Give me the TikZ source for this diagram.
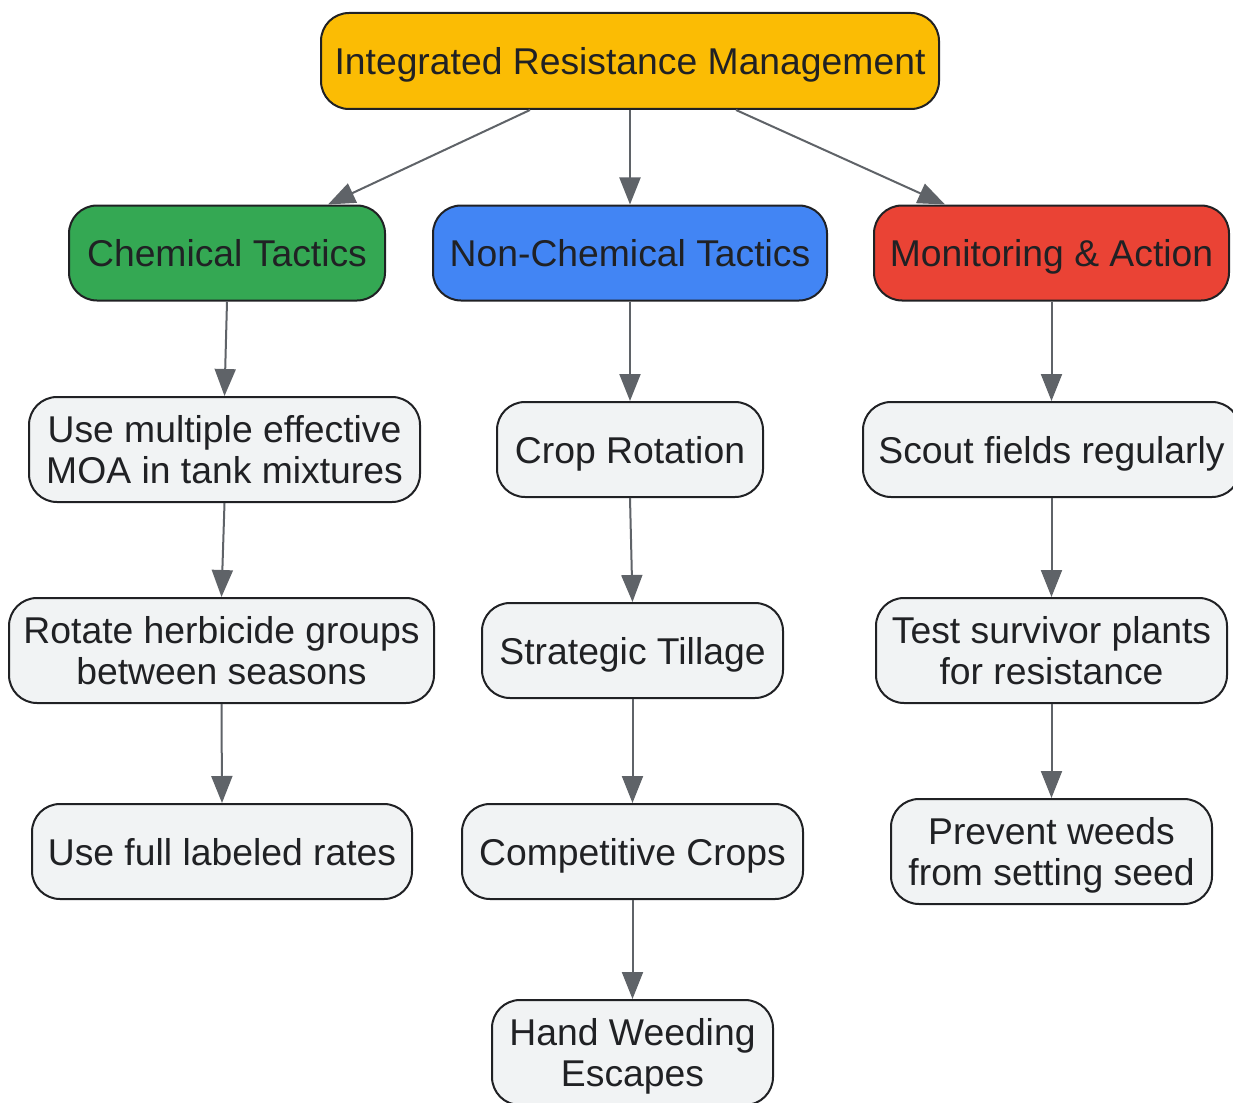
\documentclass[tikz,border=0pt]{standalone}
\usepackage{fontspec}
\setmainfont{Liberation Sans}
\usetikzlibrary{arrows.meta}
\definecolor{rootc}{HTML}{FBBC04}
\definecolor{chemc}{HTML}{34A853}
\definecolor{nonc}{HTML}{4285F4}
\definecolor{monc}{HTML}{EA4335}
\definecolor{leafc}{HTML}{F1F3F4}
\definecolor{borderc}{HTML}{202124}
\definecolor{edgec}{HTML}{5F6368}
\tikzset{
  box/.style={draw=borderc, line width=2pt, rounded corners=28pt, inner sep=0pt,
    align=center, text=borderc, text depth=0pt, font=\fontsize{37.3}{41}\selectfont},
  leaf/.style={box, fill=leafc},
  conn/.style={draw=edgec, line width=2pt, -{Triangle[length=27pt,width=21pt]}}
}
\begin{document}
\begin{tikzpicture}[x=1pt,y=-1pt]
\useasboundingbox (0,0) rectangle (1233,1102);
\clip (0,0) rectangle (1233,1102);
\node[box, fill=rootc, minimum width=618pt, minimum height=96pt] (root) at (630,61) {Integrated Resistance Management};
\node[box, fill=chemc, minimum width=316pt, minimum height=95pt] (chem) at (227,253) {Chemical Tactics};
\node[box, fill=nonc, minimum width=394pt, minimum height=95pt] (non) at (630,253) {Non-Chemical Tactics};
\node[box, fill=monc, minimum width=355pt, minimum height=95pt] (mon) at (1051.5,253) {Monitoring \& Action};
\node[leaf, minimum width=391pt, minimum height=105pt] (m1) at (224.5,449.5) {Use multiple effective\\MOA in tank mixtures};
\node[leaf, minimum width=266pt, minimum height=95pt] (n1) at (630,449.5) {Crop Rotation};
\node[leaf, minimum width=377pt, minimum height=95pt] (s1) at (1051.5,449.5) {Scout fields regularly};
\node[leaf, minimum width=425pt, minimum height=105pt] (m2) at (221.5,650.5) {Rotate herbicide groups\\between seasons};
\node[leaf, minimum width=301pt, minimum height=95pt] (n2) at (632.5,650.5) {Strategic Tillage};
\node[leaf, minimum width=351pt, minimum height=105pt] (s2) at (1051.5,650.5) {Test survivor plants\\for resistance};
\node[leaf, minimum width=380pt, minimum height=95pt] (m3) at (222,851.5) {Use full labeled rates};
\node[leaf, minimum width=341pt, minimum height=95pt] (n3) at (632.5,851.5) {Competitive Crops};
\node[leaf, minimum width=321pt, minimum height=105pt] (s3) at (1051.5,851.5) {Prevent weeds\\from setting seed};
\node[leaf, minimum width=281pt, minimum height=105pt] (n4) at (632.5,1052.5) {Hand Weeding\\Escapes};
\draw[conn] ([xshift=-100]root.south) -- ([xshift=101]chem.north);
\draw[conn] (root.south) -- (non.north);
\draw[conn] ([xshift=106]root.south) -- ([xshift=-106.5]mon.north);
\draw[conn] (chem.south) -- (m1.north);
\draw[conn] (m1.south) -- (m2.north);
\draw[conn] (m2.south) -- (m3.north);
\draw[conn] (non.south) -- (n1.north);
\draw[conn] (n1.south) -- (n2.north);
\draw[conn] (n2.south) -- (n3.north);
\draw[conn] (n3.south) -- (n4.north);
\draw[conn] (mon.south) -- (s1.north);
\draw[conn] (s1.south) -- (s2.north);
\draw[conn] (s2.south) -- (s3.north);
\end{tikzpicture}
\end{document}
